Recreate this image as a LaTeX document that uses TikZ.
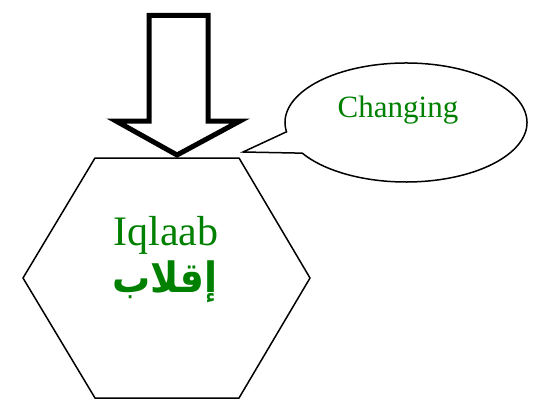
\documentclass[tikz,border=0pt]{standalone}
\usepackage{fontspec}
\usetikzlibrary{calc}
\setmainfont{Liberation Serif}
\newfontfamily\arabicfont[Script=Arabic]{DejaVu Sans}
\TeXXeTstate=1
\definecolor{txtgreen}{RGB}{0,128,0}
\begin{document}
\begin{tikzpicture}[x=1pt,y=-1pt,
  outline/.style={draw=black,line width=1.5pt,line join=miter},
  bigarrow/.style={draw=black,fill=white,line width=5pt,line join=miter},
  lbl/.style={text=txtgreen,inner sep=0pt,anchor=base}]
\useasboundingbox (0,0) rectangle (534,404);
% hexagon
\coordinate (h1) at (95,158);
\coordinate (h2) at (239,158);
\coordinate (h3) at (310,278);
\coordinate (h4) at (239,398);
\coordinate (h5) at (95,398);
\coordinate (h6) at (23,278);
\draw[outline] (h1) -- (h2) -- (h3) -- (h4) -- (h5) -- (h6) -- cycle;
% block arrow
\coordinate (a1) at (149,15.5);
\coordinate (a2) at (208,15.5);
\coordinate (a3) at (208,121);
\coordinate (a4) at (240,121);
\coordinate (a5) at (177,155);
\coordinate (a6) at (116,121);
\coordinate (a7) at (149,121);
\draw[bigarrow] (a1) -- (a2) -- (a3) -- (a4) -- (a5) -- (a6) -- (a7) -- cycle;
% callout
\coordinate (cc) at (406,122.5);
\coordinate (ctip) at (243,152);
\draw[outline,fill=white] (ctip) -- ($(cc)+(189:121pt and 59.5pt)$)
  arc[start angle=189,end angle=-149,x radius=121pt,y radius=59.5pt] -- cycle;
\node[lbl,font=\fontsize{31}{31}\selectfont] (chg) at (398,117) {Changing};
% labels
\node[lbl,font=\fontsize{42}{42}\selectfont] (lat) at (166,245) {Iqlaab};
\node[lbl,font=\arabicfont\bfseries\fontsize{38}{38}\selectfont,yscale=1.1] (ar) at (165,292) {\beginR إقلاب\endR};
\end{tikzpicture}
\end{document}
